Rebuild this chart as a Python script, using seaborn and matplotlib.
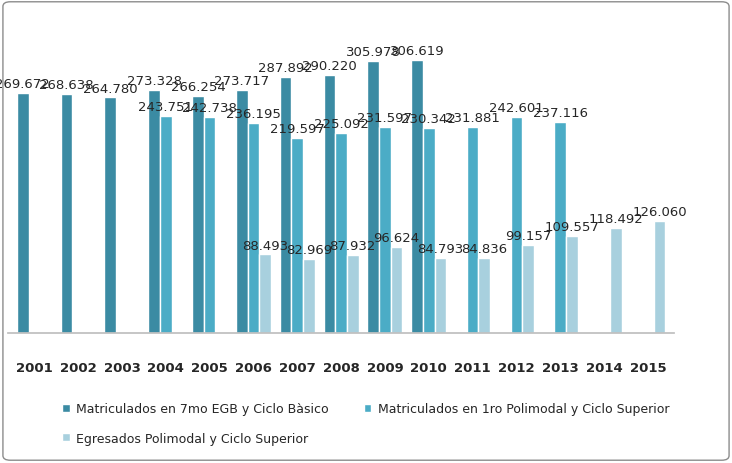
import numpy as np
import pandas as pd
import matplotlib.pyplot as plt
import seaborn as sns
from matplotlib.patches import FancyBboxPatch

years = [str(y) for y in range(2001, 2016)]
nan = np.nan
egb = [269.672, 268.638, 264.780, 273.328, 266.254, 273.717, 287.892, 290.220,
       305.978, 306.619, nan, nan, nan, nan, nan]
polimodal = [nan, nan, nan, 243.751, 242.738, 236.195, 219.597, 225.092,
             231.597, 230.342, 231.881, 242.601, 237.116, nan, nan]
egresados = [nan, nan, nan, nan, nan, 88.493, 82.969, 87.932, 96.624, 84.793,
             84.836, 99.157, 109.557, 118.492, 126.060]
series = ["Matriculados en 7mo EGB y Ciclo Bàsico",
          "Matriculados en 1ro Polimodal y Ciclo Superior",
          "Egresados Polimodal y Ciclo Superior"]
colors = ["#3b8ba3", "#4bacc6", "#a8d0de"]

df = pd.DataFrame({"year": years * 3,
                   "serie": np.repeat(series, len(years)),
                   "valor": egb + polimodal + egresados})

sns.set_theme(style="white")
plt.rcParams['font.family'] = ['DejaVu Sans']

fig = plt.figure(figsize=(7.32, 4.64), dpi=100)
ax = fig.add_axes([0.011, 0.28, 0.91, 0.70])
sns.barplot(data=df, x="year", y="valor", hue="serie", palette=colors,
            saturation=1, width=0.8, ax=ax, legend=True)

for cont in ax.containers:
    labels = ["" if np.isnan(v) else f"{v:.3f}" for v in cont.datavalues]
    ax.bar_label(cont, labels=labels, fontsize=9.5, padding=2)

ax.set_ylim(0, 365)
ax.set_xlim(-0.6, 14.6)
ax.set_yticks([])
ax.set_xlabel("")
ax.set_ylabel("")
for s in ["top", "right", "left"]:
    ax.spines[s].set_visible(False)
ax.spines["bottom"].set_color("#bfbfbf")
ax.tick_params(axis="x", labelsize=9.5, pad=14)
for t in ax.get_xticklabels():
    t.set_fontweight("bold")

handles, labs = ax.get_legend_handles_labels()
ax.legend_.remove()
order = [0, 2, 1]
fig.legend([handles[i] for i in order], [labs[i] for i in order],
           loc="upper left", bbox_to_anchor=(0.07, 0.155),
           ncol=2, frameon=False, fontsize=9, handlelength=0.6,
           handleheight=0.6, columnspacing=2.8, handletextpad=0.5,
           labelspacing=1.3)

fig.patches.append(FancyBboxPatch((0.004, 0.006), 0.992, 0.988,
                                  boxstyle="round,pad=0,rounding_size=0.01",
                                  transform=fig.transFigure, fill=False,
                                  edgecolor="#8c8c8c", linewidth=1))
fig.savefig("out.png", dpi=100)
